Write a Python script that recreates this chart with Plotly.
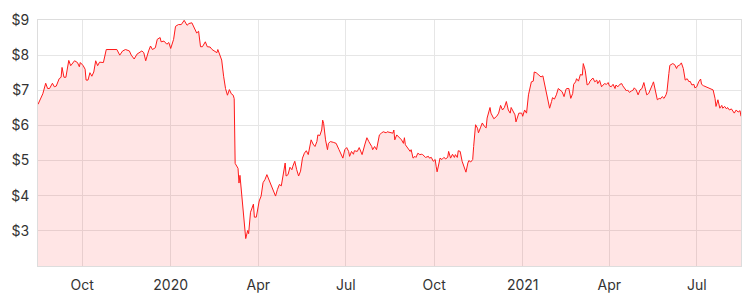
import plotly.graph_objects as go

dates = [
"2019-08-16","2019-08-20","2019-08-21","2019-08-24","2019-08-26","2019-08-28","2019-08-31","2019-09-02","2019-09-04","2019-09-07",
"2019-09-09","2019-09-10","2019-09-12","2019-09-14","2019-09-16","2019-09-17","2019-09-19","2019-09-21","2019-09-23","2019-09-26",
"2019-09-28","2019-09-29","2019-10-02","2019-10-04","2019-10-05","2019-10-07","2019-10-09","2019-10-11","2019-10-13","2019-10-15",
"2019-10-17","2019-10-19","2019-10-23","2019-10-26","2019-10-30","2019-11-02","2019-11-06","2019-11-09","2019-11-12","2019-11-15",
"2019-11-19","2019-11-21","2019-11-24","2019-11-27","2019-12-02","2019-12-04","2019-12-06","2019-12-09","2019-12-11","2019-12-13",
"2019-12-16","2019-12-18","2019-12-21","2019-12-22","2019-12-25","2019-12-28","2019-12-30","2020-01-01","2020-01-04","2020-01-06",
"2020-01-09","2020-01-12","2020-01-15","2020-01-18","2020-01-20","2020-01-23","2020-01-25","2020-01-28","2020-01-30","2020-02-01",
"2020-02-03","2020-02-06","2020-02-08","2020-02-11","2020-02-13","2020-02-15","2020-02-18","2020-02-19","2020-02-21","2020-02-23",
"2020-02-25","2020-02-27","2020-02-29","2020-03-02","2020-03-04","2020-03-06","2020-03-07","2020-03-08","2020-03-11","2020-03-12",
"2020-03-13","2020-03-15","2020-03-17","2020-03-19","2020-03-21","2020-03-22","2020-03-24","2020-03-27","2020-03-28","2020-03-30",
"2020-04-02","2020-04-04","2020-04-06","2020-04-08","2020-04-10","2020-04-12","2020-04-15","2020-04-16","2020-04-19","2020-04-21",
"2020-04-23","2020-04-25","2020-04-27","2020-04-29","2020-04-30","2020-05-02","2020-05-04","2020-05-06","2020-05-07","2020-05-09",
"2020-05-11","2020-05-13","2020-05-15","2020-05-17","2020-05-19","2020-05-21","2020-05-23","2020-05-25","2020-05-26","2020-05-28",
"2020-05-30","2020-06-01","2020-06-02","2020-06-04","2020-06-06","2020-06-07","2020-06-08","2020-06-10","2020-06-12","2020-06-13",
"2020-06-15","2020-06-18","2020-06-21","2020-06-24","2020-06-26","2020-06-28","2020-06-30","2020-07-02","2020-07-04","2020-07-05",
"2020-07-07","2020-07-09","2020-07-10","2020-07-13","2020-07-15","2020-07-16","2020-07-18","2020-07-21","2020-07-23","2020-07-25",
"2020-07-28","2020-07-29","2020-07-31","2020-08-02","2020-08-04","2020-08-05","2020-08-07","2020-08-09","2020-08-12","2020-08-13",
"2020-08-16","2020-08-19","2020-08-20","2020-08-21","2020-08-23","2020-08-25","2020-08-28","2020-08-30","2020-08-31","2020-09-01",
"2020-09-04","2020-09-06","2020-09-07","2020-09-09","2020-09-11","2020-09-12","2020-09-14","2020-09-16","2020-09-18","2020-09-19",
"2020-09-22","2020-09-25","2020-09-26","2020-09-28","2020-09-30","2020-10-02","2020-10-03","2020-10-04","2020-10-06","2020-10-07",
"2020-10-09","2020-10-11","2020-10-13","2020-10-15","2020-10-16","2020-10-18","2020-10-20","2020-10-22","2020-10-23","2020-10-25",
"2020-10-26","2020-10-28","2020-10-30","2020-11-01","2020-11-03","2020-11-05","2020-11-06","2020-11-08","2020-11-10","2020-11-11",
"2020-11-13","2020-11-15","2020-11-16","2020-11-18","2020-11-20","2020-11-22","2020-11-24","2020-11-25","2020-11-28","2020-11-29",
"2020-12-02","2020-12-05","2020-12-07","2020-12-09","2020-12-11","2020-12-13","2020-12-15","2020-12-17","2020-12-19","2020-12-20",
"2020-12-22","2020-12-24","2020-12-25","2020-12-28","2020-12-31","2021-01-01","2021-01-03","2021-01-05","2021-01-07","2021-01-08",
"2021-01-10","2021-01-12","2021-01-13","2021-01-15","2021-01-18","2021-01-20","2021-01-22","2021-01-24","2021-01-26","2021-01-27",
"2021-01-29","2021-01-31","2021-02-01","2021-02-03","2021-02-05","2021-02-07","2021-02-08","2021-02-11","2021-02-13","2021-02-15",
"2021-02-16","2021-02-18","2021-02-20","2021-02-22","2021-02-23","2021-02-25","2021-02-26","2021-02-28","2021-03-02","2021-03-04",
"2021-03-05","2021-03-07","2021-03-09","2021-03-11","2021-03-12","2021-03-15","2021-03-17","2021-03-19","2021-03-20","2021-03-22",
"2021-03-24","2021-03-25","2021-03-27","2021-03-29","2021-03-31","2021-04-01","2021-04-03","2021-04-05","2021-04-07","2021-04-08",
"2021-04-10","2021-04-12","2021-04-14","2021-04-15","2021-04-17","2021-04-19","2021-04-20","2021-04-22","2021-04-24","2021-04-26",
"2021-04-27","2021-04-29","2021-05-01","2021-05-03","2021-05-05","2021-05-07","2021-05-08","2021-05-10","2021-05-12","2021-05-14",
"2021-05-16","2021-05-17","2021-05-19","2021-05-21","2021-05-23","2021-05-24","2021-05-26","2021-05-28","2021-05-30","2021-05-31",
"2021-06-02","2021-06-03","2021-06-06","2021-06-08","2021-06-10","2021-06-11","2021-06-13","2021-06-15","2021-06-17","2021-06-18",
"2021-06-19","2021-06-21","2021-06-23","2021-06-24","2021-06-26","2021-06-28","2021-06-29","2021-07-01","2021-07-03","2021-07-05",
"2021-07-06","2021-07-08","2021-07-11","2021-07-14","2021-07-16","2021-07-18","2021-07-20","2021-07-21","2021-07-23","2021-07-25",
"2021-07-27","2021-07-28","2021-07-30","2021-08-01","2021-08-02","2021-08-04","2021-08-06","2021-08-08","2021-08-09","2021-08-11",
"2021-08-13","2021-08-15","2021-08-16",
]

prices = [
6.60,6.86,6.90,7.20,7.05,7.05,7.20,7.10,7.12,7.33,
7.37,7.65,7.37,7.37,7.79,7.85,7.70,7.79,7.84,7.79,
7.67,7.79,7.70,7.60,7.29,7.29,7.50,7.40,7.52,7.84,
7.70,7.80,7.79,8.16,8.16,8.15,8.16,8.00,8.12,8.16,
8.12,8.00,7.89,8.03,8.12,8.07,7.84,8.12,8.26,8.16,
8.21,8.45,8.50,8.38,8.40,8.31,8.36,8.19,8.45,8.82,
8.87,8.87,8.99,8.85,8.90,8.92,8.82,8.63,8.68,8.24,
8.24,8.38,8.24,8.23,8.16,8.12,8.07,8.16,8.03,7.86,
7.40,7.05,6.86,7.02,6.90,6.86,6.76,4.92,4.78,4.36,
4.58,4.04,3.48,2.78,3.01,2.92,3.53,3.76,3.39,3.39,
3.85,3.99,4.37,4.46,4.60,4.46,4.23,4.18,3.99,4.18,
4.32,4.28,4.65,4.93,4.56,4.60,4.81,4.74,4.84,4.98,
4.74,4.56,4.70,5.07,5.21,5.28,5.17,5.43,5.59,5.47,
5.40,5.54,5.73,5.71,5.87,6.15,6.06,5.59,5.31,5.49,
5.54,5.52,5.49,5.31,5.21,5.07,5.31,5.37,5.26,5.12,
5.26,5.18,5.28,5.26,5.37,5.31,5.17,5.47,5.65,5.54,
5.40,5.31,5.40,5.31,5.54,5.73,5.78,5.82,5.79,5.82,
5.80,5.78,5.87,5.59,5.73,5.68,5.59,5.49,5.65,5.45,
5.35,5.26,5.31,5.07,5.12,5.09,5.21,5.17,5.18,5.17,
5.09,5.12,5.07,5.09,4.98,5.03,4.84,4.68,4.93,5.07,
5.03,5.09,5.05,5.09,5.26,5.07,5.18,5.09,5.17,5.09,
5.28,5.26,4.98,4.79,4.67,4.93,5.00,4.96,5.03,5.40,
6.02,5.92,5.79,5.93,6.07,5.98,5.93,6.21,6.51,6.35,
6.19,6.26,6.35,6.57,6.44,6.51,6.68,6.44,6.35,6.51,
6.40,6.30,6.10,6.35,6.35,6.26,6.44,6.35,6.87,7.01,
7.24,7.26,7.52,7.50,7.41,7.38,7.41,7.15,6.91,6.68,
6.49,6.68,6.79,6.75,6.87,7.05,7.03,6.96,6.82,7.03,
7.05,7.05,6.77,6.91,7.17,7.24,7.33,7.26,7.45,7.43,
7.76,7.57,7.15,7.19,7.26,7.35,7.24,7.29,7.19,7.28,
7.10,7.13,7.19,7.17,7.22,7.13,7.10,7.17,7.05,7.15,
7.10,7.17,7.19,7.13,7.07,6.98,7.01,6.94,6.98,7.01,
7.07,7.01,6.87,7.01,7.05,7.22,7.10,6.87,6.91,7.07,
7.17,7.24,6.96,6.73,6.77,6.75,6.82,6.77,6.87,6.96,
7.48,7.71,7.76,7.73,7.62,7.69,7.71,7.78,7.62,7.43,
7.29,7.33,7.24,7.26,7.15,7.17,7.07,7.10,7.24,7.32,
7.17,7.13,7.10,7.07,7.05,7.01,6.77,6.54,6.73,6.49,
6.57,6.49,6.54,6.47,6.51,6.44,6.47,6.40,6.35,6.44,
6.38,6.42,6.26,
]

x_tick_vals = ["2019-10-01","2020-01-01","2020-04-01","2020-07-01",
               "2020-10-01","2021-01-01","2021-04-01","2021-07-01"]
x_tick_text = ["Oct","2020","Apr","Jul","Oct","2021","Apr","Jul"]
y_tick_vals = [3,4,5,6,7,8,9]
y_tick_text = ["$3","$4","$5","$6","$7","$8","$9"]

fig = go.Figure()
fig.add_trace(go.Scatter(
    x=dates, y=prices, mode="lines",
    line=dict(color="#ff1a1a", width=1),
    fill="tozeroy", fillcolor="rgba(255,0,0,0.1)",
    hoverinfo="skip",
))

fig.update_layout(
    width=749, height=300,
    margin=dict(l=38, r=7, t=20, b=31),
    paper_bgcolor="white", plot_bgcolor="white",
    showlegend=False,
    font=dict(family="Inter, Open Sans, sans-serif", size=14, color="#333333"),
)
fig.update_xaxes(
    range=["2019-08-16","2021-08-16"],
    tickvals=x_tick_vals, ticktext=x_tick_text,
    showgrid=True, gridcolor="#e6e6e6", gridwidth=1,
    showline=True, linecolor="#dddddd", linewidth=1, mirror=True,
    ticks="", ticklabelstandoff=6, zeroline=False,
)
fig.update_yaxes(
    range=[2, 9],
    tickvals=y_tick_vals, ticktext=y_tick_text,
    showgrid=True, gridcolor="#e6e6e6", gridwidth=1,
    showline=True, linecolor="#dddddd", linewidth=1, mirror=True,
    ticks="", zeroline=False, ticklabelstandoff=5,
)

fig.write_html("out.html")
